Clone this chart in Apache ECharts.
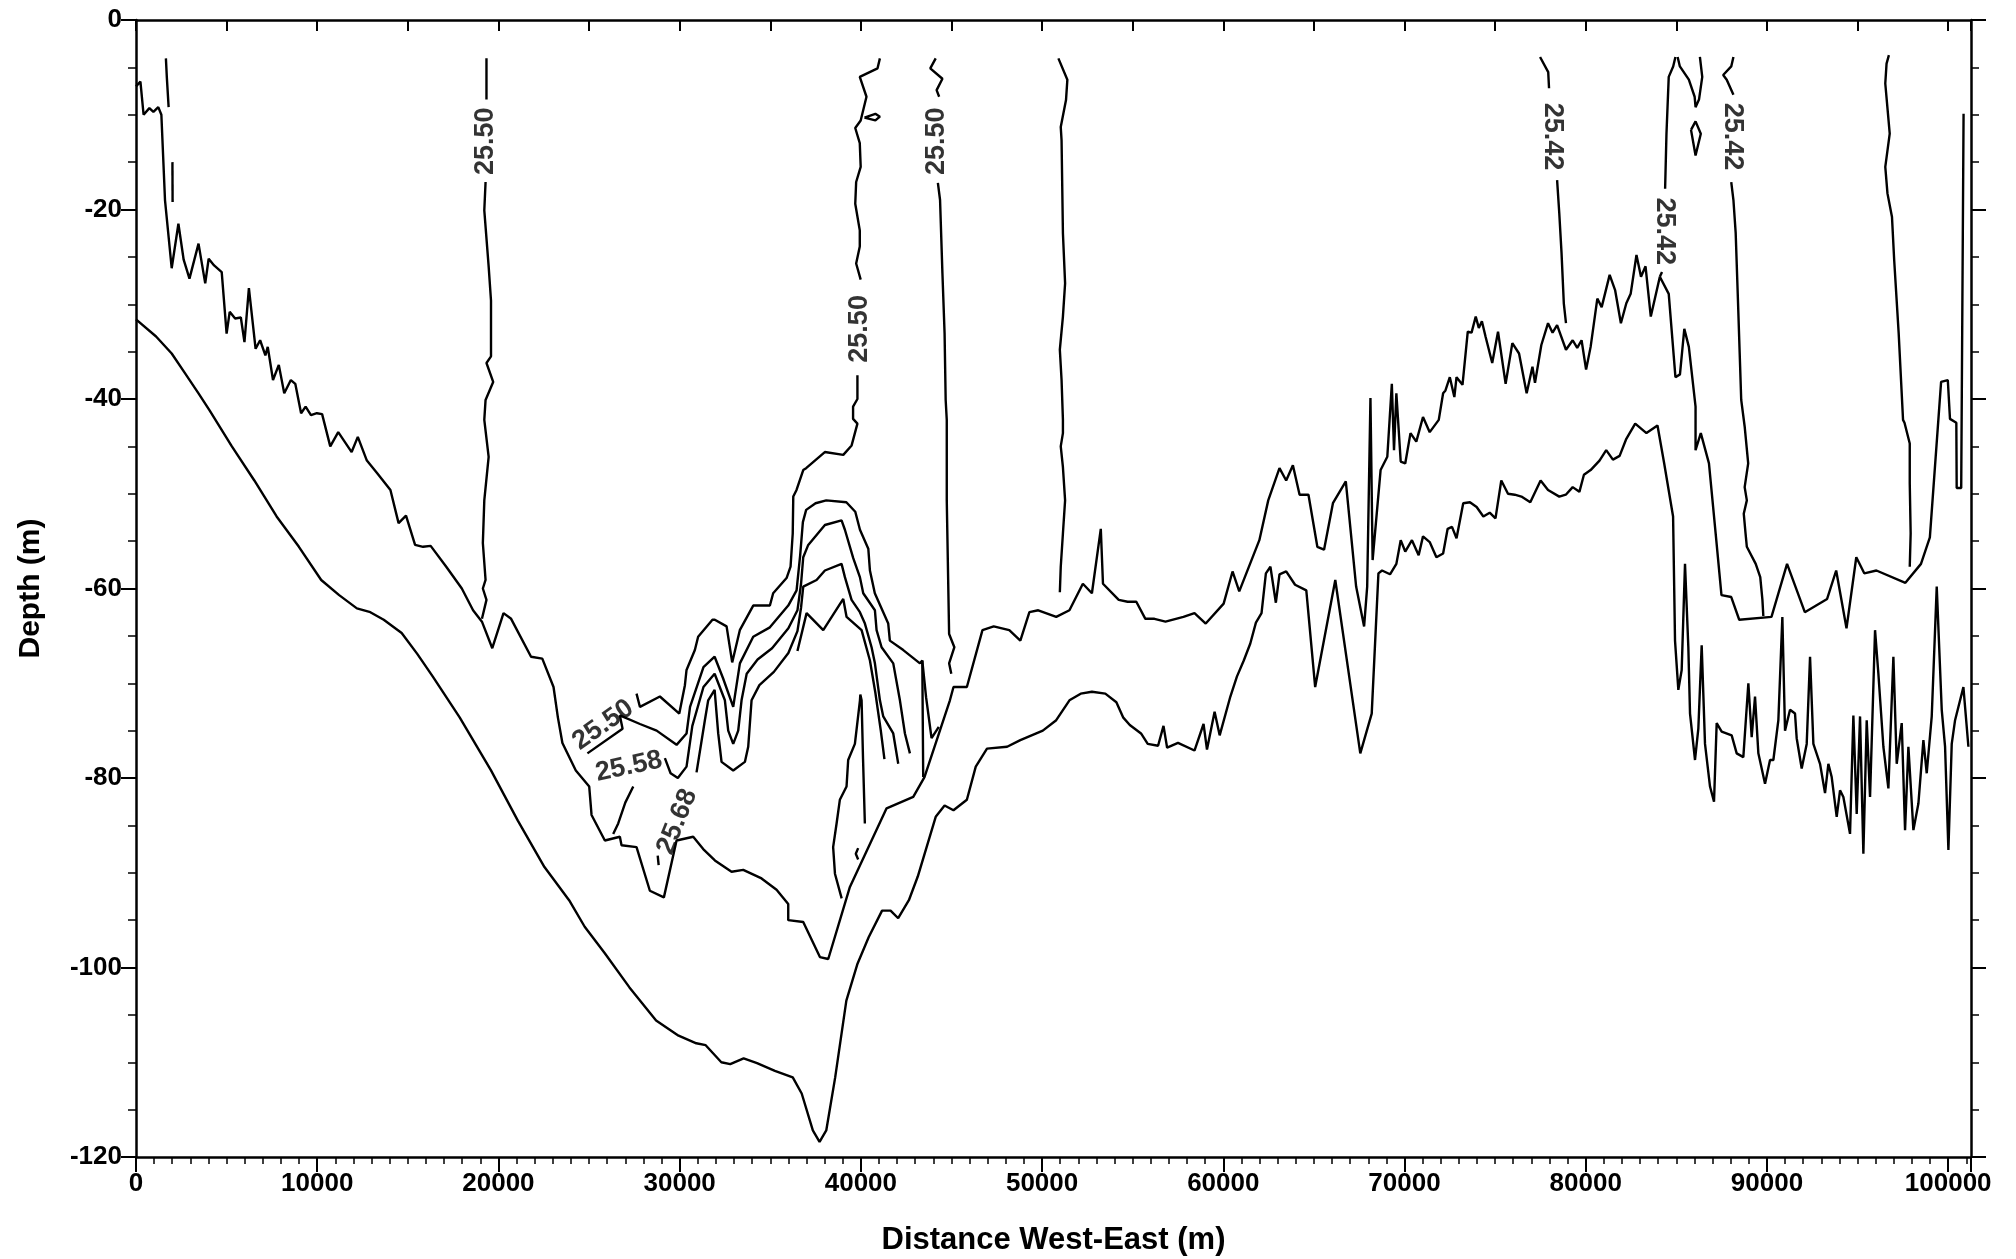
<!DOCTYPE html>
<html><head><meta charset="utf-8">
<script src="https://cdn.jsdelivr.net/npm/echarts/dist/echarts.min.js"></script>
<style>html,body{margin:0;padding:0;background:#fff}#chart{width:2016px;height:1259px}</style>
</head><body><div id="chart"></div>
<script>
// ---------- axis ticks ----------
const xTickValues = [0,10000,20000,30000,40000,50000,60000,70000,80000,90000,100000];
const yTickValues = [0,-20,-40,-60,-80,-100,-120];

// ---------- boundary lines [distance m, depth m] ----------
const upperBoundary = [[0,-7.0],[244,-6.5],[419,-10.0],[738,-9.3],[960,-9.7],[1230,-9.2],[1400,-10.0],[1600,-19.0],[1970,-26.2],[2340,-21.5],[2630,-25.3],[2950,-27.3],[3450,-23.6],[3820,-27.8],[4010,-25.2],[4310,-25.9],[4730,-26.6],[5000,-33.1],[5170,-30.8],[5470,-31.5],[5785,-31.4],[5985,-34.0],[6230,-28.3],[6600,-34.7],[6850,-33.8],[7140,-35.4],[7270,-34.5],[7560,-38.0],[7880,-36.4],[8180,-39.4],[8545,-38.0],[8790,-38.4],[9110,-41.5],[9360,-40.8],[9655,-41.7],[9980,-41.5],[10270,-41.6],[10720,-45.0],[11160,-43.5],[11900,-45.6],[12240,-44.0],[12740,-46.5],[13300,-47.8],[14040,-49.6],[14490,-53.1],[14900,-52.3],[15400,-55.4],[15840,-55.6],[16260,-55.5],[17120,-57.7],[17980,-60.0],[18600,-62.3],[19090,-63.5],[19660,-66.3],[20280,-62.6],[20700,-63.2],[21800,-67.2],[22420,-67.4],[23040,-70.4],[23280,-73.6],[23530,-76.3],[24270,-79.2],[25010,-80.9],[25138,-83.9],[25873,-86.6],[26701,-86.2],[26793,-87.1],[27621,-87.3],[28357,-91.9],[29130,-92.6],[29829,-86.6],[30749,-86.2],[31300,-87.5],[31944,-88.7],[32864,-89.9],[33508,-89.7],[34520,-90.6],[35348,-91.8],[35992,-93.3],[35992,-95.0],[36820,-95.2],[37740,-98.9],[38200,-99.1],[39395,-91.5],[41419,-83.2],[42891,-82.0],[43510,-79.9],[44914,-71.8],[45112,-70.4],[45850,-70.4],[46710,-64.4],[47330,-64.0],[48190,-64.4],[48800,-65.5],[49300,-62.5],[49790,-62.3],[50780,-63.0],[51510,-62.3],[52250,-59.5],[52750,-60.5],[53240,-53.7],[53360,-59.5],[54230,-61.2],[54720,-61.4],[55200,-61.4],[55700,-63.2],[56200,-63.2],[56810,-63.5],[57800,-63.0],[58410,-62.6],[59030,-63.7],[60020,-61.6],[60510,-58.2],[60880,-60.3],[61990,-54.9],[62480,-50.7],[63100,-47.3],[63470,-48.6],[63840,-47.0],[64210,-50.1],[64700,-50.1],[65190,-55.6],[65560,-55.9],[66050,-51.0],[66760,-48.7],[67330,-59.8],[67770,-64.0],[67940,-59.8],[68120,-39.9],[68240,-57.0],[68680,-47.5],[69050,-46.1],[69300,-38.4],[69420,-45.4],[69550,-39.4],[69790,-46.6],[70040,-46.8],[70330,-43.6],[70650,-44.5],[71020,-41.9],[71390,-43.5],[71890,-42.2],[72130,-39.4],[72260,-39.1],[72500,-37.7],[72750,-39.8],[72870,-37.7],[73200,-38.5],[73490,-32.9],[73700,-33.0],[73930,-31.3],[74100,-32.5],[74270,-31.8],[74470,-33.4],[74840,-36.2],[75160,-32.9],[75580,-38.4],[75950,-34.1],[76320,-35.2],[76740,-39.4],[77060,-36.6],[77200,-38.3],[77550,-34.3],[77920,-32.0],[78170,-33.0],[78420,-32.2],[78910,-34.8],[79280,-33.8],[79530,-34.6],[79770,-33.8],[80020,-36.9],[80270,-34.5],[80640,-29.4],[80880,-30.3],[81320,-26.9],[81620,-28.5],[81940,-32.0],[82240,-29.9],[82480,-28.9],[82800,-24.8],[83050,-27.1],[83300,-26.0],[83590,-31.3],[84090,-27.1],[84580,-28.9],[84950,-37.7],[85200,-37.4],[85440,-32.6],[85690,-34.5],[86060,-40.8],[86060,-45.4],[86350,-43.6],[86800,-46.8],[87170,-54.2],[87490,-60.7],[88030,-60.9],[88470,-63.3],[90250,-63.0],[91110,-57.4],[92090,-62.5],[93320,-61.1],[93820,-58.1],[94390,-64.2],[94930,-56.7],[95370,-58.4],[96040,-58.1],[97640,-59.4],[98500,-57.4],[98990,-54.6],[99610,-38.2],[99980,-38.0],[100100,-42.1],[100450,-42.5],[100470,-49.4],[100720,-49.4],[100850,-9.9]];

const lowerBoundary = [[0,-31.6],[1108,-33.4],[1970,-35.2],[2710,-37.3],[3450,-39.4],[4060,-41.2],[5290,-45.0],[6530,-48.6],[7760,-52.4],[8990,-55.6],[10220,-59.1],[11210,-60.7],[12190,-62.1],[12930,-62.5],[13670,-63.3],[14660,-64.7],[15520,-66.9],[16380,-69.3],[17860,-73.6],[19590,-79.2],[21070,-84.5],[22540,-89.4],[23900,-92.9],[24760,-95.7],[25870,-98.5],[27230,-102.1],[28700,-105.6],[29940,-107.2],[30920,-108.0],[31437,-108.2],[32300,-110.0],[32792,-110.2],[33531,-109.6],[34270,-110.1],[35256,-110.9],[36242,-111.6],[36735,-113.3],[37350,-117.2],[37720,-118.4],[38090,-117.2],[38583,-111.6],[39199,-103.5],[39815,-99.6],[40430,-96.8],[41170,-94.0],[41640,-94.0],[42060,-94.8],[42650,-92.9],[43140,-90.4],[44130,-84.1],[44620,-82.9],[45110,-83.4],[45850,-82.3],[46340,-78.8],[46960,-76.9],[48070,-76.7],[48800,-76.0],[50040,-75.0],[50780,-73.9],[51510,-71.8],[52130,-71.1],[52750,-70.9],[53490,-71.1],[54100,-72.0],[54470,-73.6],[54840,-74.4],[55460,-75.3],[55830,-76.4],[56400,-76.6],[56700,-74.5],[56900,-76.8],[57500,-76.3],[58410,-77.1],[58910,-74.3],[59100,-77.0],[59520,-73.0],[59800,-75.5],[60390,-71.4],[60750,-69.3],[61130,-67.6],[61490,-65.8],[61800,-63.6],[62110,-62.6],[62350,-58.4],[62600,-57.7],[62900,-61.5],[63100,-58.5],[63470,-58.2],[63960,-59.6],[64580,-60.2],[65070,-70.4],[66180,-59.1],[67560,-77.4],[68190,-73.2],[68560,-58.4],[68760,-58.1],[69200,-58.5],[69550,-57.4],[69790,-54.9],[70040,-56.1],[70410,-54.9],[70780,-56.5],[71020,-54.5],[71390,-55.1],[71760,-56.7],[72130,-56.3],[72380,-53.7],[72620,-53.5],[72870,-54.7],[73240,-51.0],[73610,-50.9],[73980,-51.4],[74350,-52.4],[74700,-52.0],[75020,-52.6],[75340,-48.6],[75710,-50.0],[76080,-50.1],[76450,-50.3],[76940,-50.9],[77510,-48.6],[77920,-49.6],[78540,-50.3],[78900,-50.1],[79280,-49.3],[79650,-49.8],[79900,-48.0],[80270,-47.5],[80760,-46.5],[81130,-45.4],[81500,-46.4],[81870,-46.0],[82240,-44.2],[82730,-42.6],[83350,-43.6],[83960,-42.8],[84330,-46.8],[84820,-52.4],[84927,-65.5],[85110,-70.7],[85295,-68.6],[85478,-57.4],[85662,-66.2],[85755,-73.2],[86030,-78.1],[86214,-74.8],[86398,-66.0],[86582,-76.4],[86858,-80.9],[87079,-82.5],[87226,-74.2],[87502,-75.1],[88054,-75.5],[88330,-77.4],[88697,-77.8],[88974,-70.0],[89158,-75.7],[89342,-71.4],[89526,-77.4],[89894,-80.6],[90170,-78.1],[90354,-78.1],[90630,-73.9],[90850,-63.0],[90998,-75.0],[91274,-72.8],[91549,-73.2],[91641,-75.8],[91917,-79.0],[92194,-76.4],[92378,-67.2],[92562,-76.4],[92929,-78.5],[93205,-81.6],[93389,-78.5],[93573,-79.9],[93849,-84.1],[94033,-81.3],[94217,-82.0],[94585,-85.9],[94769,-73.4],[94953,-83.8],[95137,-73.5],[95321,-88.0],[95505,-73.9],[95689,-82.0],[95965,-64.4],[96149,-69.0],[96425,-76.7],[96701,-81.1],[96977,-67.2],[97161,-78.5],[97437,-74.2],[97621,-85.5],[97805,-76.7],[98081,-85.5],[98357,-82.7],[98633,-76.0],[98817,-79.5],[99093,-73.5],[99369,-59.8],[99645,-72.8],[99829,-76.7],[100013,-87.6],[100197,-76.4],[100381,-73.9],[100841,-70.4],[101117,-76.7]];

// ---------- density contours ----------
const c0Top = [[1650,-4.05],[1700,-6.0],[1800,-9.2]];
const c0Dash = [[2010,-15.0],[2020,-19.2]];
const c1Top = [[19340,-4.05],[19340,-8.4]];
const c1Bottom = [[19290,-17.1],[19220,-20.1],[19460,-26.0],[19590,-29.6],[19590,-35.5],[19340,-36.2],[19710,-38.2],[19290,-40.1],[19220,-42.2],[19460,-46.1],[19220,-50.7],[19140,-55.2],[19290,-59.1],[19140,-60.0],[19340,-61.2],[19090,-63.2]];
const c2Top = [[41050,-4.05],[40920,-5.1],[39940,-6.0],[40310,-8.1],[39990,-10.6],[39690,-11.4],[39940,-13.0],[39990,-15.5],[39740,-17.1],[39690,-19.4],[39940,-22.2],[39940,-23.9],[39740,-25.7],[39990,-27.4]];
const c2Loop = [[40200,-10.3],[40800,-9.9],[41050,-10.2],[40800,-10.6],[40200,-10.3]];
const dome1 = [[39810,-37.5],[39810,-40.0],[39570,-40.8],[39570,-42.1],[39810,-42.6],[39490,-44.9],[39030,-45.9],[38010,-45.6],[36980,-47.3],[36820,-47.5],[36450,-49.6],[36270,-50.3],[36240,-54.2],[36120,-57.7],[35900,-58.9],[35160,-60.5],[34980,-61.8],[34060,-61.8],[33320,-64.4],[32900,-67.8],[32590,-64.0],[31940,-63.3],[31810,-63.3],[31020,-65.1],[30840,-66.5],[30380,-68.6],[30290,-70.2],[29980,-73.2],[28910,-71.4],[27810,-72.5],[27620,-71.1]];
const dome2 = [[24910,-77.4],[26850,-74.8],[26700,-73.4],[27810,-74.3],[28730,-75.0],[29830,-76.5],[30380,-75.3],[30574,-72.5],[31314,-68.3],[31930,-67.2],[32400,-69.5],[32956,-72.5],[33324,-67.9],[34060,-65.1],[34980,-64.1],[35992,-61.8],[36452,-60.2],[36650,-56.5],[36800,-53.0],[36981,-51.7],[37500,-51.0],[38090,-50.7],[39199,-50.9],[39692,-51.9],[39950,-53.8],[40410,-55.8],[40500,-58.1],[40770,-60.5],[41510,-63.7],[41600,-65.5],[42340,-66.5],[43260,-67.9],[43390,-67.6],[43440,-79.9]];
const dome3Left = [[26333,-85.9],[26610,-84.8],[27000,-82.6],[27440,-80.9]];
const dome3 = [[29185,-77.9],[29500,-79.5],[29900,-80.0],[30380,-78.8],[30700,-74.5],[31314,-70.4],[31930,-69.0],[32496,-71.8],[32680,-75.0],[32956,-76.4],[33232,-75.0],[33416,-71.8],[33700,-69.0],[34300,-67.5],[35100,-66.3],[36000,-64.2],[36500,-62.3],[36700,-59.5],[36820,-56.7],[37096,-55.4],[38016,-53.3],[38935,-52.8],[39119,-53.8],[39579,-56.8],[39947,-58.8],[40131,-60.5],[40775,-62.3],[40867,-64.4],[41143,-66.2],[41787,-67.9],[42155,-71.8],[42431,-75.3],[42707,-77.4]];
const dome4 = [[30932,-79.4],[31392,-73.9],[31576,-71.8],[31930,-70.7],[32128,-75.3],[32312,-78.3],[32956,-79.2],[33600,-78.3],[33784,-76.7],[33968,-71.8],[34400,-70.2],[35200,-68.8],[36000,-66.8],[36500,-64.5],[36700,-62.0],[36820,-59.8],[37556,-59.1],[38016,-58.1],[38935,-57.4],[39119,-58.8],[39487,-61.2],[39947,-62.5],[40223,-63.7],[40591,-66.2],[40775,-67.9],[41051,-71.8],[41235,-73.5],[41787,-75.3],[42062,-78.5]];
const dome4Dash = [[28790,-88.2],[28840,-89.2]];
const dome5 = [[36500,-66.6],[37004,-62.6],[37924,-64.4],[39028,-61.1],[39212,-63.0],[40040,-64.4],[40500,-67.6],[40800,-71.0],[41100,-75.0],[41300,-78.0]];
const domeSpike = [[38940,-92.7],[38570,-90.1],[38470,-87.3],[38660,-84.8],[38840,-82.3],[39210,-80.9],[39300,-78.1],[39670,-76.4],[39950,-71.8],[39970,-71.2],[40040,-71.8],[40120,-78.0],[40220,-84.8]];
const domeChevron = [[39850,-87.4],[39720,-88.0],[39850,-88.6]];
const domeNotch = [[43390,-67.6],[43600,-71.5],[43900,-75.8],[44300,-74.6]];
const c44Top = [[44130,-4.05],[43830,-5.1],[44500,-6.2],[44180,-7.4],[44320,-8.1]];
const c44Bottom = [[44250,-17.2],[44370,-19.0],[44500,-26.7],[44620,-33.1],[44680,-40.1],[44740,-42.2],[44740,-50.7],[44870,-64.8],[45160,-66.2],[44870,-67.9],[44990,-69.0]];
const c51 = [[50900,-4.05],[51395,-6.3],[51320,-8.45],[51030,-11.3],[51075,-12.7],[51150,-22.5],[51270,-27.8],[51150,-31.3],[50980,-34.8],[51075,-38.0],[51150,-42.2],[51150,-43.6],[51030,-45.0],[51150,-47.2],[51270,-50.7],[51150,-54.2],[51030,-57.7],[50980,-60.4]];
const c78Top = [[77480,-3.9],[77930,-5.5],[77975,-7.2]];
const c78Bottom = [[78420,-16.9],[78540,-20.4],[78665,-24.6],[78790,-29.9],[78910,-32.0]];
const c84Top = [[84950,-3.9],[84825,-4.9],[84580,-6.0],[84455,-12.0],[84380,-17.8]];
const c84Bottom = [[84209,-26.6],[84090,-27.1]];
const c86U = [[85070,-3.9],[85195,-4.9],[85690,-6.3],[86010,-8.1],[86060,-9.2],[86250,-8.4],[86430,-6.0],[86300,-3.9]];
const c86Loop = [[85810,-11.6],[86060,-10.7],[86350,-12.0],[86060,-14.3],[85810,-11.6]];
const c88Top = [[88150,-3.9],[88030,-4.9],[87585,-5.8],[87780,-6.3],[88150,-7.9]];
const c88Bottom = [[88030,-17.1],[88150,-19.0],[88275,-22.5],[88400,-29.6],[88520,-36.6],[88580,-40.1],[88770,-42.9],[88965,-46.8],[88770,-49.3],[88890,-50.7],[88720,-52.1],[88820,-54.2],[88890,-55.6],[89380,-57.4],[89630,-58.8],[89750,-61.2],[89800,-62.9]];
const c97 = [[96730,-3.7],[96600,-4.6],[96530,-6.7],[96775,-12.0],[96530,-15.5],[96650,-18.3],[96900,-20.8],[97020,-25.3],[97270,-33.1],[97510,-42.2],[97590,-42.5],[97880,-44.7],[97880,-48.9],[97930,-54.2],[97880,-57.7]];

// ---------- contour labels ----------
const labelX    = [19300, 39940, 44180, 78170, 84330, 88100, 25780, 27200, 29870];
const labelD    = [-12.8, -32.6, -12.8, -12.3, -22.3, -12.3, -74.4, -78.8, -84.6];
const labelText = ['25.50','25.50','25.50','25.42','25.42','25.42','25.50','25.58','25.68'];
const labelRot  = [90, 90, 90, -90, -90, -90, 35, 12, 68];

const polylines = [upperBoundary, lowerBoundary, c0Top, c0Dash, c1Top, c1Bottom, c2Top, c2Loop,
  dome1, dome2, dome3Left, dome3, dome4, dome4Dash, dome5, domeSpike, domeChevron, domeNotch,
  c44Top, c44Bottom, c51, c78Top, c78Bottom, c84Top, c84Bottom, c86U, c86Loop, c88Top, c88Bottom, c97];

const FONT = '"Liberation Sans", Arial, Helvetica, sans-serif';
const X_MAX = 101260;

const series = polylines.map(p => ({
  type: 'line', data: p, showSymbol: false, symbol: 'none', silent: true,
  lineStyle: { color: '#000', width: 2.4 }, animation: false, z: 3
}));
series.push({
  type: 'scatter', silent: true, animation: false, z: 5,
  symbol: 'circle', symbolSize: 1, itemStyle: { color: 'rgba(0,0,0,0)' },
  data: labelX.map((x, i) => ({
    name: labelText[i], value: [x, labelD[i]],
    label: { show: true, position: 'inside', formatter: '{b}', rotate: labelRot[i],
      color: '#000', fontFamily: FONT, fontWeight: 'bold', fontSize: 27 }
  }))
});

const chart = echarts.init(document.getElementById('chart'), null, { renderer: 'canvas' });
chart.setOption({
  backgroundColor: '#fff',
  animation: false,
  grid: { left: 136, right: 45, top: 20, bottom: 102, containLabel: false, outerBoundsMode: 'none' },
  xAxis: [
    { type: 'value', min: 0, max: X_MAX, interval: 10000, position: 'bottom',
      axisLine: { show: true, onZero: false, lineStyle: { color: '#000', width: 2.5 } },
      axisTick: { show: true, length: 15, lineStyle: { color: '#000', width: 2 } },
      minorTick: { show: true, splitNumber: 10, length: 7, lineStyle: { color: '#000', width: 1.5 } },
      splitLine: { show: false }, minorSplitLine: { show: false },
      axisLabel: { color: '#000', fontFamily: FONT, fontWeight: 'bold', fontSize: 26, margin: 14,
        formatter: v => (xTickValues.indexOf(v) >= 0 ? String(v) : '') },
      name: 'Distance West-East (m)', nameLocation: 'middle', nameGap: 68,
      nameTextStyle: { color: '#000', fontFamily: FONT, fontWeight: 'bold', fontSize: 31 } },
    { type: 'value', min: 0, max: X_MAX, interval: 5000, position: 'bottom',
      axisLine: { show: false }, axisTick: { show: true, length: 11, lineStyle: { color: '#000', width: 2 } },
      axisLabel: { show: false }, splitLine: { show: false } },
    { type: 'value', min: 0, max: X_MAX, position: 'top',
      axisLine: { show: true, onZero: false, lineStyle: { color: '#000', width: 2.5 } },
      axisTick: { show: false }, axisLabel: { show: false }, splitLine: { show: false } }
  ],
  yAxis: [
    { type: 'value', min: -120, max: 0, interval: 20, position: 'left',
      axisLine: { show: true, onZero: false, lineStyle: { color: '#000', width: 2.5 } },
      axisTick: { show: true, length: 15, lineStyle: { color: '#000', width: 2 } },
      minorTick: { show: true, splitNumber: 4, length: 8, lineStyle: { color: '#000', width: 1.5 } },
      splitLine: { show: false }, minorSplitLine: { show: false },
      axisLabel: { color: '#000', fontFamily: FONT, fontWeight: 'bold', fontSize: 26, margin: 14,
        formatter: v => (yTickValues.indexOf(v) >= 0 ? String(v) : '') },
      name: 'Depth (m)', nameLocation: 'middle', nameGap: 90,
      nameTextStyle: { color: '#000', fontFamily: FONT, fontWeight: 'bold', fontSize: 30 } },
    { type: 'value', min: -120, max: 0, interval: 20, position: 'right',
      axisLine: { show: true, onZero: false, lineStyle: { color: '#000', width: 2.5 } },
      axisTick: { show: true, length: 15, lineStyle: { color: '#000', width: 2 } },
      minorTick: { show: true, splitNumber: 4, length: 8, lineStyle: { color: '#000', width: 1.5 } },
      axisLabel: { show: false }, splitLine: { show: false } }
  ],
  series: series
});
</script></body></html>
